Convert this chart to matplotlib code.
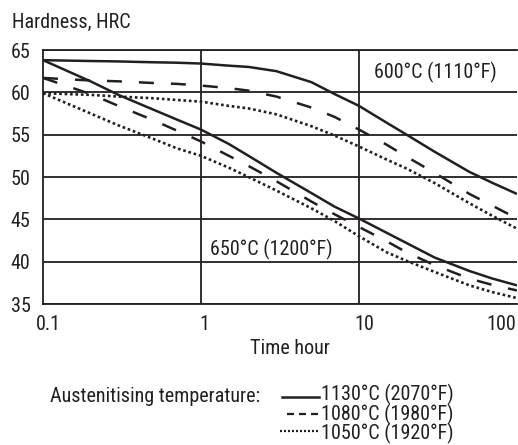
import matplotlib
matplotlib.use("Agg")
import matplotlib.pyplot as plt
import matplotlib.transforms as mtransforms
from matplotlib.lines import Line2D
from matplotlib import font_manager

# ---------------- data ----------------
time_h = [0.1, 0.2, 0.3, 0.5, 0.7, 1, 1.5, 2, 3, 5, 7, 10, 15, 20, 30, 50, 70, 100]

# tempering at 600 C (1110 F)
s600_1130 = [63.8, 63.7, 63.65, 63.55, 63.5, 63.4, 63.15, 63.0, 62.5, 61.2, 59.8, 58.4, 56.4, 55.0, 53.0, 50.6, 49.3, 48.0]
s600_1080 = [61.7, 61.4, 61.3, 61.1, 61.0, 60.8, 60.5, 60.2, 59.5, 58.2, 57.1, 55.6, 53.8, 52.4, 50.5, 48.0, 46.6, 45.1]
s600_1050 = [59.9, 59.7, 59.5, 59.3, 59.1, 58.9, 58.4, 58.1, 57.4, 56.0, 54.9, 53.6, 52.05, 51.0, 49.3, 46.9, 45.4, 43.9]

# tempering at 650 C (1200 F)
s650_1130 = [63.8, 61.3, 59.7, 57.95, 56.8, 55.6, 53.9, 52.5, 50.5, 48.1, 46.5, 45.1, 43.4, 42.2, 40.5, 38.9, 38.0, 37.2]
s650_1080 = [61.7, 59.8, 58.4, 56.7, 55.5, 54.2, 52.5, 51.3, 49.5, 47.1, 45.6, 44.1, 42.4, 41.1, 39.6, 38.0, 37.25, 36.6]
s650_1050 = [59.9, 57.5, 56.1, 54.5, 53.4, 52.5, 51.1, 50.0, 48.4, 46.3, 44.8, 43.0, 41.1, 40.1, 38.8, 37.2, 36.4, 35.7]

x_ticks = [0.1, 1, 10, 100]
x_tick_labels = ["0.1", "1", "10", "100"]
y_ticks = [35, 40, 45, 50, 55, 60, 65]
y_tick_labels = ["35", "40", "45", "50", "55", "60", "65"]

legend_labels = ["1130°C (2070°F)", "1080°C (1980°F)", "1050°C (1920°F)"]
legend_title = "Austenitising temperature:"
label_600 = "600°C (1110°F)"
label_650 = "650°C (1200°F)"

# ---------------- font ----------------
names = {f.name for f in font_manager.fontManager.ttflist}
fam = "DejaVu Sans"
for cand in ["Liberation Sans Narrow", "Roboto Condensed", "Open Sans Condensed", "Liberation Sans"]:
    if cand in names:
        fam = cand
        break
plt.rcParams["font.family"] = [fam, "DejaVu Sans"]

ink = "#231f20"
FS = 14.5

W, H = 518, 445
fig = plt.figure(figsize=(W / 100, H / 100), dpi=100)
fig.patch.set_facecolor("white")

L, R, T, B = 43, 517, 50, 304
ax = fig.add_axes([L / W, 1 - B / H, (R - L) / W, (B - T) / H])
ax.set_xscale("log")
ax.set_xlim(0.1, 100)
ax.set_ylim(35, 65)

lw = 1.8
solid = dict(color=ink, lw=lw, linestyle="-", solid_capstyle="butt")
dashed = dict(color=ink, lw=lw, linestyle=(0, (6, 6.8)), dash_capstyle="butt")
dotted = dict(color=ink, lw=1.9, linestyle=(0, (1, 1.05)), dash_capstyle="butt")

ax.plot(time_h, s600_1130, **solid, zorder=3)
ax.plot(time_h, s600_1080, **dashed, zorder=3)
ax.plot(time_h, s600_1050, **dotted, zorder=3)
ax.plot(time_h, s650_1130, **solid, zorder=3)
ax.plot(time_h, s650_1080, **dashed, zorder=3)
ax.plot(time_h, s650_1050, **dotted, zorder=3)

# grid
for yv in y_ticks:
    ax.axhline(yv, color=ink, lw=1.3, zorder=1)
for xv in [1, 10]:
    ax.axvline(xv, color=ink, lw=1.3, zorder=1)

for sp in ["left", "top", "bottom"]:
    ax.spines[sp].set_linewidth(1.3)
    ax.spines[sp].set_color(ink)
ax.spines["right"].set_visible(False)

ax.set_yticks(y_ticks, y_tick_labels)
ax.set_xticks(x_ticks, x_tick_labels)
ax.minorticks_off()
ax.tick_params(axis="both", length=0, labelsize=FS, colors=ink)
ax.tick_params(axis="y", pad=9)
ax.tick_params(axis="x", pad=8)

offs_px = [5.5, 3, 5, -16]
for lab, o in zip(ax.get_xticklabels(), offs_px):
    lab.set_transform(lab.get_transform() + mtransforms.ScaledTranslation(o / 100, 0, fig.dpi_scale_trans))

# annotations in axes
ax.text(30.3, 62.3, label_600, fontsize=FS, color=ink, ha="center", va="center", zorder=4)
ax.text(2.79, 41.5, label_650, fontsize=FS, color=ink, ha="center", va="center", zorder=4)

# titles
fig.text(12 / W, 1 - 22 / H, "Hardness, HRC", fontsize=FS, color=ink, ha="left", va="center")
fig.text(290 / W, 1 - 349 / H, "Time hour", fontsize=FS, color=ink, ha="center", va="center")

# legend
fig.text(50 / W, 1 - 397 / H, legend_title, fontsize=FS, color=ink, ha="left", va="center")
leg_styles = [
    dict(color=ink, lw=1.8, linestyle="-"),
    dict(color=ink, lw=1.6, linestyle=(0, (3.15, 2.25))),
    dict(color=ink, lw=1.6, linestyle=(0, (0.9, 0.9))),
]
leg_x0 = [282, 287, 280]
leg_y = [397, 414, 431]
for st, x0, yy in zip(leg_styles, leg_x0, leg_y):
    fig.add_artist(Line2D([x0 / W, 319 / W], [1 - yy / H, 1 - yy / H], transform=fig.transFigure, **st))
fig.text(321 / W, 1 - 414 / H, "\n".join(legend_labels), fontsize=FS, color=ink,
         ha="left", va="center", linespacing=0.9)

fig.savefig("out.png", dpi=100, facecolor="white")
